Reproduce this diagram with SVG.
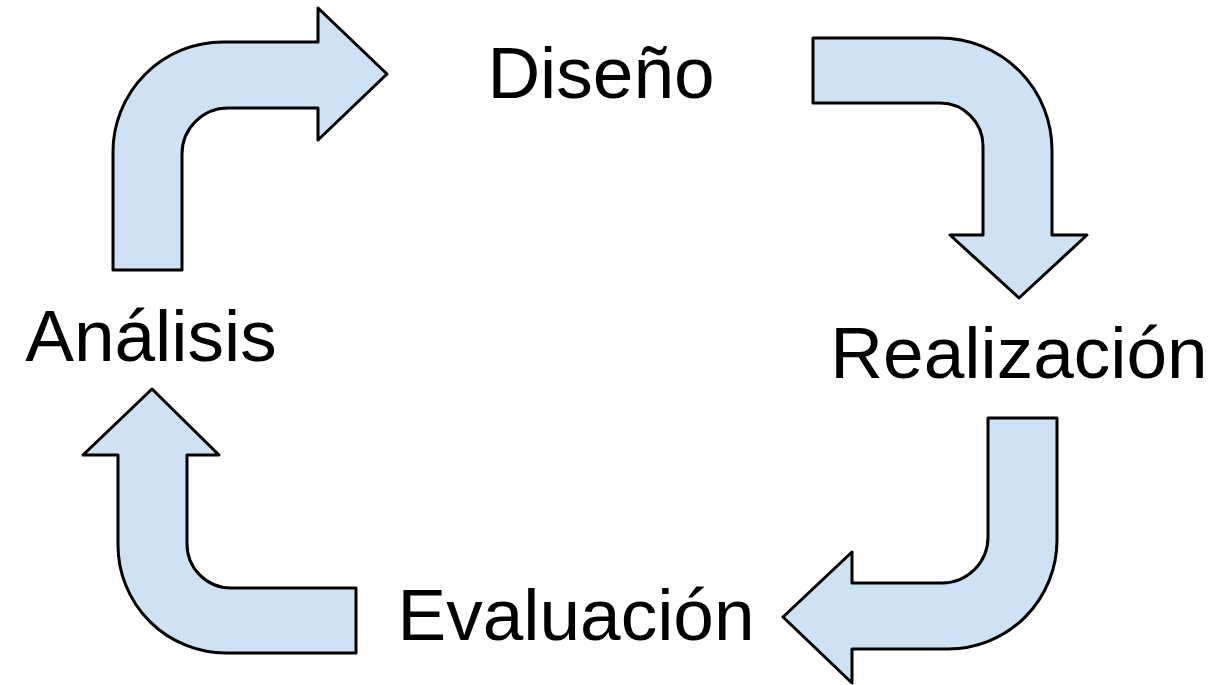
<svg xmlns="http://www.w3.org/2000/svg" width="1221" height="685" viewBox="0 0 1221 685">
<style>
.arrow{fill:#cfe2f3;stroke:#000;stroke-width:3;stroke-linejoin:round}
.lbl{font-family:"Liberation Sans",Arial,sans-serif;font-size:73px;fill:#000;text-anchor:middle}
</style>
<rect width="1221" height="685" fill="#fff"/>
<g id="connectors">
<path id="arrow-analisis-diseno" class="arrow" d="M113,270 L113,152 A110,110 0 0 1 223,42 L318,42 L318,8 L387,74 L318,140 L318,108 L228,108 A46,46 0 0 0 182,154 L182,270 Z"/>
<path id="arrow-diseno-realizacion" class="arrow" d="M813,38 L940,38 A112,112 0 0 1 1052,150 L1052,235 L1087,235 L1019,298 L950,235 L983,235 L983,146 A43,43 0 0 0 940,103 L813,103 Z"/>
<path id="arrow-realizacion-evaluacion" class="arrow" d="M988,418 L1057,418 L1057,540 A109,109 0 0 1 948,649 L852,649 L852,683 L783,617 L852,552 L852,583 L942,583 A46,46 0 0 0 988,537 Z"/>
<path id="arrow-evaluacion-analisis" class="arrow" d="M356,588 L356,653 L226,653 A108,108 0 0 1 118,545 L118,455 L83,455 L152,389 L219,455 L187,455 L187,544 A44,44 0 0 0 231,588 Z"/>
</g>
<g id="diseno"><text class="lbl" x="601" y="98">Diseño</text></g>
<g id="realizacion"><text class="lbl" x="1019" y="378">Realización</text></g>
<g id="evaluacion"><text class="lbl" x="576" y="640">Evaluación</text></g>
<g id="analisis"><text class="lbl" x="151" y="361">Análisis</text></g>
</svg>
